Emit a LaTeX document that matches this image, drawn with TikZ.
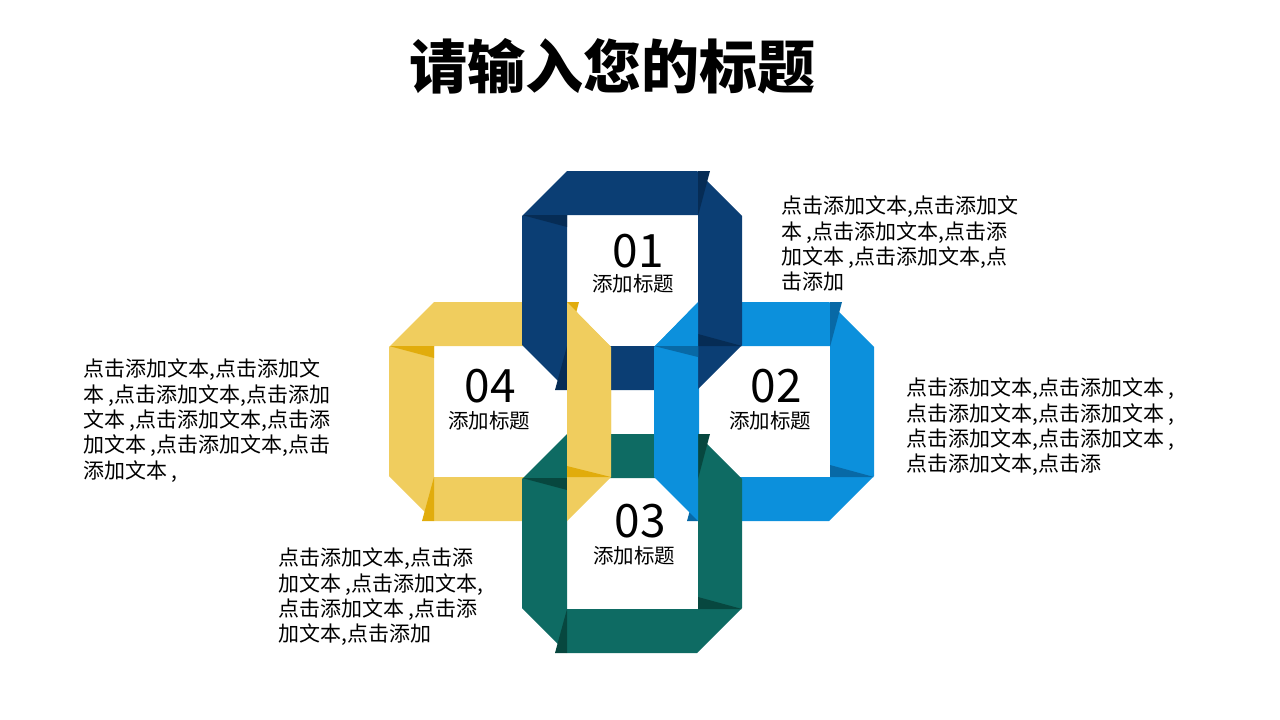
\documentclass[tikz,border=0pt]{standalone}
\usepackage{fontspec}
\setmainfont{Noto Sans CJK SC}
\definecolor{cA}{HTML}{0B3E74}\definecolor{cAd}{HTML}{062C55}
\definecolor{cB}{HTML}{0C90DC}\definecolor{cBd}{HTML}{0869A6}
\definecolor{cC}{HTML}{0E6B63}\definecolor{cCd}{HTML}{07473F}
\definecolor{cD}{HTML}{F0CD5E}\definecolor{cDd}{HTML}{E1AC0C}
\tikzset{body/.style={anchor=north west,align=left,font=\fontsize{21}{25.3}\selectfont,inner sep=0pt},
num/.style={font=\fontsize{46}{46}\selectfont},
sub/.style={font=\fontsize{20.5}{20.5}\selectfont}}
\newcommand\myring[5]{% x1 y1 x2 y2 color
 \fill[#5,even odd rule] (#1+45,#2)--(#3-45,#2)--(#3,#2+45)--(#3,#4-45)--(#3-45,#4)--(#1+45,#4)--(#1,#4-45)--(#1,#2+45)--cycle
   (#1+45,#2+44) rectangle (#3-44,#4-44);
 \fill[#5d] (#1,#2+44)--(#1+45,#2+44)--(#1+45,#2+56)--cycle;
 \fill[#5d] (#3-44,#2)--(#3-44,#2+45)--(#3-32,#2)--cycle;
 \fill[#5d] (#3,#4-44)--(#3-44,#4-44)--(#3-44,#4-56)--cycle;
 \fill[#5d] (#1+45,#4)--(#1+45,#4-44)--(#1+33,#4)--cycle;}
\begin{document}
\begin{tikzpicture}[x=1pt,y=-1pt]
\useasboundingbox (0,0) rectangle (1280,720);
\node (title) at (612,66) {\fontsize{58}{58}\selectfont\bfseries 请输入您的标题};
\myring{389}{302}{611}{521}{cD}
\myring{654}{302}{874}{521}{cB}
\myring{522}{171}{742}{390}{cA}
\myring{522}{434}{742}{653}{cC}
\fill[cD] (567,302)--(611,347)--(611,477)--(567,521)--cycle;
\fill[cDd] (567,477)--(611,477)--(567,466)--cycle;
\fill[cB] (698,302)--(654,347)--(654,477)--(698,521)--cycle;
\fill[cBd] (654,346)--(698,346)--(698,357)--cycle;
\node[num] (n1) at (638,251) {01}; \node[sub] (s1) at (633,284) {添加标题};
\node[num] (n2) at (776,386) {02}; \node[sub] (s2) at (770,421) {添加标题};
\node[num] (n3) at (640,521) {03}; \node[sub] (s3) at (634,556) {添加标题};
\node[num] (n4) at (490,386) {04}; \node[sub] (s4) at (489,421) {添加标题};
\node[body] (t1) at (781,196) {点击添加文本,点击添加文\\本 ,点击添加文本,点击添\\加文本 ,点击添加文本,点\\击添加};
\node[body] (t2) at (906,378) {点击添加文本,点击添加文本 ,\\点击添加文本,点击添加文本 ,\\点击添加文本,点击添加文本 ,\\点击添加文本,点击添};
\node[body] (t4) at (83,359) {点击添加文本,点击添加文\\本 ,点击添加文本,点击添加\\文本 ,点击添加文本,点击添\\加文本 ,点击添加文本,点击\\添加文本 ,};
\node[body] (t3) at (278,548) {点击添加文本,点击添\\加文本 ,点击添加文本,\\点击添加文本 ,点击添\\加文本,点击添加};
\end{tikzpicture}
\end{document}
